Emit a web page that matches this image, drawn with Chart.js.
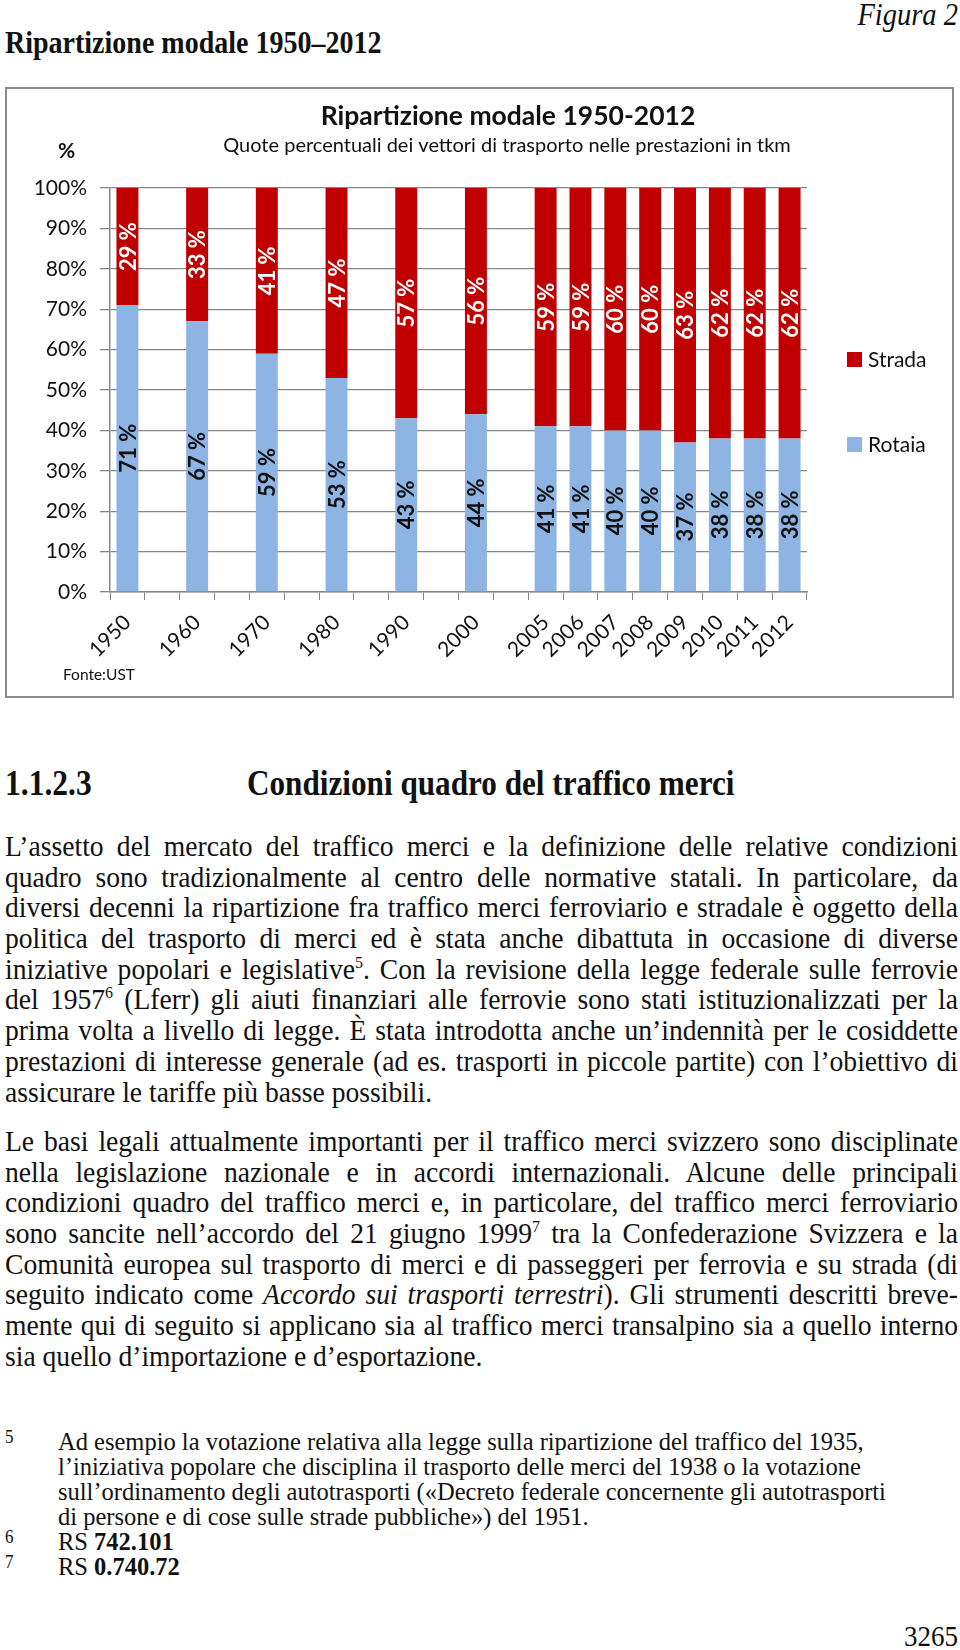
<!DOCTYPE html>
<html lang="it">
<head>
  <meta charset="UTF-8" />
  <title>Ripartizione modale 1950-2012</title>
  <script src="https://cdn.jsdelivr.net/npm/chart.js"></script>
  <style>
    body {
      margin: 0;
      width: 960px;
      height: 1650px;
      position: relative;
      background: #fff;
      font-family: 'Liberation Serif', 'Times New Roman', serif;
      color: #111;
    }
    .abs { position: absolute; white-space: nowrap; }
    .tall { transform: scaleY(1.12); }
    #figura { right: 2px; top: -1px; font-size: 28.5px; font-style: italic; }
    #figTitle { left: 5px; top: 27px; font-size: 28px; font-weight: bold; }
    .chart-box {
      position: absolute;
      left: 5px;
      top: 87px;
      width: 945px;
      height: 607px;
      border: 2px solid #8a8a8a;
    }
    #secNum { left: 5px; top: 766px; font-size: 31.5px; font-weight: bold; }
    #secTitle { left: 247px; top: 766px; font-size: 31.2px; font-weight: bold; }
    .para { position: absolute; left: 5px; width: 953px; font-size: 27.6px; }
    .para div { height: 30.7px; line-height: 30.7px; white-space: nowrap; transform: scaleY(1.1); }
    .para .j { text-align: justify; text-align-last: justify; }
    sup { font-size: 16px; line-height: 0; vertical-align: 10px; }
    .notes { position: absolute; left: 5px; top: 1429px; font-size: 24.5px; }
    .notes div { height: 25px; line-height: 25px; white-space: nowrap; position: relative; padding-left: 53px; transform: scaleY(1.05); }
    .notes .n { position: absolute; left: 0; top: -4px; font-size: 17px; }
    #page { right: 2px; top: 1621px; font-size: 27px; }
  </style>
</head>
<body>
  <div id="figura" class="abs tall">Figura 2</div>
  <div id="figTitle" class="abs tall">Ripartizione modale 1950–2012</div>

  <div class="chart-box">
    <canvas id="modalChart"></canvas>
  </div>

  <div id="secNum" class="abs tall">1.1.2.3</div>
  <div id="secTitle" class="abs tall">Condizioni quadro del traffico merci</div>

  <div class="para" style="top: 831px;">
    <div class="j">L’assetto del mercato del traffico merci e la definizione delle relative condizioni</div>
    <div class="j">quadro sono tradizionalmente al centro delle normative statali. In particolare, da</div>
    <div class="j">diversi decenni la ripartizione fra traffico merci ferroviario e stradale è oggetto della</div>
    <div class="j">politica del trasporto di merci ed è stata anche dibattuta in occasione di diverse</div>
    <div class="j">iniziative popolari e legislative<sup>5</sup>. Con la revisione della legge federale sulle ferrovie</div>
    <div class="j">del 1957<sup>6</sup> (Lferr) gli aiuti finanziari alle ferrovie sono stati istituzionalizzati per la</div>
    <div class="j">prima volta a livello di legge. È stata introdotta anche un’indennità per le cosiddette</div>
    <div class="j">prestazioni di interesse generale (ad es. trasporti in piccole partite) con l’obiettivo di</div>
    <div>assicurare le tariffe più basse possibili.</div>
  </div>

  <div class="para" style="top: 1126px;">
    <div class="j">Le basi legali attualmente importanti per il traffico merci svizzero sono disciplinate</div>
    <div class="j">nella legislazione nazionale e in accordi internazionali. Alcune delle principali</div>
    <div class="j">condizioni quadro del traffico merci e, in particolare, del traffico merci ferroviario</div>
    <div class="j">sono sancite nell’accordo del 21 giugno 1999<sup>7</sup> tra la Confederazione Svizzera e la</div>
    <div class="j">Comunità europea sul trasporto di merci e di passeggeri per ferrovia e su strada (di</div>
    <div class="j">seguito indicato come <i>Accordo sui trasporti terrestri</i>). Gli strumenti descritti breve-</div>
    <div class="j">mente qui di seguito si applicano sia al traffico merci transalpino sia a quello interno</div>
    <div>sia quello d’importazione e d’esportazione.</div>
  </div>

  <div class="notes">
    <div><span class="n">5</span>Ad esempio la votazione relativa alla legge sulla ripartizione del traffico del 1935,</div>
    <div>l’iniziativa popolare che disciplina il trasporto delle merci del 1938 o la votazione</div>
    <div>sull’ordinamento degli autotrasporti («Decreto federale concernente gli autotrasporti</div>
    <div>di persone e di cose sulle strade pubbliche») del 1951.</div>
    <div><span class="n">6</span>RS <b>742.101</b></div>
    <div><span class="n">7</span>RS <b>0.740.72</b></div>
  </div>

  <div id="page" class="abs tall">3265</div>

  <script>
    // values (share of tkm, %)
    const years = ['1950', '1960', '1970', '1980', '1990', '2000',
                   '2005', '2006', '2007', '2008', '2009', '2010', '2011', '2012'];
    const rotaia = [71, 67, 59, 53, 43, 44, 41, 41, 40, 40, 37, 38, 38, 38];
    const strada = [29, 33, 41, 47, 57, 56, 59, 59, 60, 60, 63, 62, 62, 62];
    // the original axis leaves an empty slot after each of these years
    const gapAfter = ['1950', '1960', '1970', '1980', '1990', '2000'];
    const yTicks = [0, 10, 20, 30, 40, 50, 60, 70, 80, 90, 100];

    const chartTitle = 'Ripartizione modale 1950-2012';
    const chartSubtitle = 'Quote percentuali dei vettori di trasporto nelle prestazioni in tkm';
    const sourceNote = 'Fonte:UST';

    const RED = '#c00000';
    const BLUE = '#8db4e2';
    const GRID = '#878787';
    const FONT = 'Lato, "Open Sans", sans-serif';

    // spread the years over the category slots
    const labels = [], railData = [], roadData = [];
    years.forEach((y, i) => {
      labels.push(y); railData.push(rotaia[i]); roadData.push(strada[i]);
      if (gapAfter.includes(y)) { labels.push(''); railData.push(null); roadData.push(null); }
    });

    const barLabels = {
      id: 'barLabels',
      afterDatasetsDraw(chart) {
        const ctx = chart.ctx;
        chart.data.datasets.forEach((ds, i) => {
          const meta = chart.getDatasetMeta(i);
          meta.data.forEach((bar, j) => {
            const v = ds.data[j];
            if (v == null) return;
            const {x, y, base} = bar.getProps(['x', 'y', 'base'], true);
            ctx.save();
            ctx.translate(x, (y + base) / 2);
            ctx.rotate(-Math.PI / 2);
            ctx.font = 'bold 22px ' + FONT;
            ctx.fillStyle = ds.labelColor;
            ctx.textAlign = 'center';
            ctx.textBaseline = 'middle';
            ctx.fillText(v + ' %', 0, 1);
            ctx.restore();
          });
        });
      }
    };

    // titles, "%" caption, source and the side legend
    const decorations = {
      id: 'decorations',
      afterDraw(chart) {
        const ctx = chart.ctx;
        ctx.save();
        ctx.fillStyle = '#111';
        ctx.textBaseline = 'middle';
        ctx.textAlign = 'center';
        ctx.font = 'bold 26.5px ' + FONT;
        ctx.fillText(chartTitle, 501, 27);
        ctx.font = '20px ' + FONT;
        ctx.fillText(chartSubtitle, 500, 57);

        ctx.textAlign = 'left';
        ctx.font = 'bold 21px ' + FONT;
        ctx.fillText('%', 51, 62);
        ctx.font = '15.5px ' + FONT;
        ctx.fillText(sourceNote, 56, 586);

        const order = [1, 0];
        const rows = [263, 348];
        ctx.font = '21px ' + FONT;
        order.forEach((di, k) => {
          const ds = chart.data.datasets[di];
          ctx.fillStyle = ds.backgroundColor;
          ctx.fillRect(840, rows[k], 15, 15);
          ctx.fillStyle = '#111';
          ctx.fillText(ds.label, 861, rows[k] + 8);
        });
        ctx.restore();
      }
    };

    new Chart(document.getElementById('modalChart'), {
      type: 'bar',
      data: {
        labels: labels,
        datasets: [
          { label: 'Rotaia', data: railData, backgroundColor: BLUE, labelColor: '#111' },
          { label: 'Strada', data: roadData, backgroundColor: RED, labelColor: '#fff' }
        ]
      },
      options: {
        responsive: true,
        maintainAspectRatio: false,
        animation: false,
        categoryPercentage: 1,
        barPercentage: 0.63,
        layout: { padding: { left: 23, right: 145, top: 99, bottom: 0 } },
        plugins: {
          legend: { display: false },
          title: { display: false },
          tooltip: { enabled: false }
        },
        scales: {
          x: {
            stacked: true,
            offset: true,
            grid: { offset: true, drawOnChartArea: false, color: GRID, tickLength: 8 },
            border: { color: GRID, width: 1.5 },
            ticks: {
              autoSkip: false, maxRotation: 45, minRotation: 45, padding: 10,
              color: '#111', font: { family: FONT, size: 21 }
            },
            afterFit(scale) { scale.height = 104; }
          },
          y: {
            stacked: true,
            min: 0,
            max: 100,
            afterBuildTicks(scale) { scale.ticks = yTicks.map(v => ({ value: v })); },
            grid: { color: GRID, lineWidth: 1.3, tickLength: 10 },
            border: { color: GRID, width: 1.5 },
            ticks: {
              padding: 13, color: '#111', font: { family: FONT, size: 21 },
              callback: v => v + '%'
            },
            afterFit(scale) { scale.width = 80; }
          }
        }
      },
      plugins: [barLabels, decorations]
    });
  </script>
</body>
</html>
